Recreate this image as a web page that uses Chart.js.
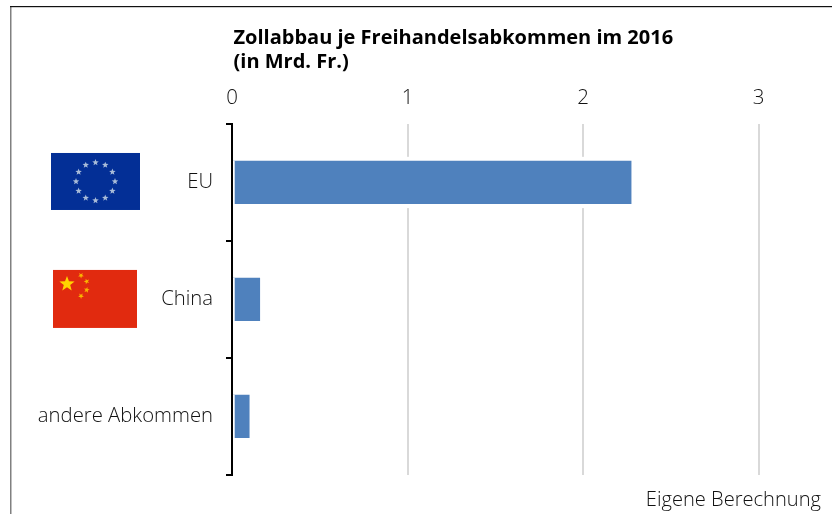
<!DOCTYPE html>
<html><head><meta charset="utf-8">
<style>
html,body{margin:0;padding:0;background:#fff;overflow:hidden}
#wrap{position:absolute;left:0;top:0;width:832px;height:514px}
canvas{display:block}
</style>
<script src="https://cdn.jsdelivr.net/npm/chart.js@4"></script>
</head><body>
<div id="wrap"><canvas id="c" width="832" height="514"></canvas></div>
<script>
const categories = ["EU", "China", "andere Abkommen"];
const values = [2.276, 0.16, 0.1];
const xTicks = [0, 1, 2, 3];
const titleLines = ["Zollabbau je Freihandelsabkommen im 2016", "(in Mrd. Fr.)"];
const sourceNote = "Eigene Berechnung";
const FONT = "'Open Sans', sans-serif";

function star(ctx, cx, cy, r, color, rot) {
  ctx.save();
  ctx.translate(cx, cy);
  ctx.rotate(rot || 0);
  ctx.fillStyle = color;
  ctx.beginPath();
  for (let i = 0; i < 10; i++) {
    const a = -Math.PI / 2 + i * Math.PI / 5;
    const q = i % 2 ? r * 0.42 : r;
    ctx.lineTo(q * Math.cos(a), q * Math.sin(a));
  }
  ctx.closePath();
  ctx.fill();
  ctx.restore();
}

const decor = {
  id: "decor",
  afterLayout(chart) {
    chart.boxes.forEach(b => {
      if (b.options && b.options.text === sourceNote) b.right = 821;
      if (b.options && b.options.text === titleLines) b.left = 233.5;
    });
  },
  beforeDraw(chart) {
    const ctx = chart.ctx;
    ctx.save();
    ctx.fillStyle = "#808080";
    ctx.fillRect(10, 6, 1.5, 508);
    ctx.fillStyle = "#111";
    ctx.fillRect(10, 6, 822, 1.2);
    ctx.restore();
  },
  beforeDatasetsDraw(chart) {
    const ctx = chart.ctx;
    ctx.save();
    ctx.fillStyle = "#fff";
    chart.getDatasetMeta(0).data.forEach(b => {
      const h = b.height;
      ctx.fillRect(b.base, b.y - h / 2 - 4, b.x - b.base + 4, h + 8);
    });
    ctx.restore();
  },
  afterDatasetsDraw(chart) {
    const ctx = chart.ctx;
    ctx.save();
    ctx.fillStyle = "#fff";
    chart.getDatasetMeta(0).data.forEach(b => {
      ctx.fillRect(b.base, b.y - b.height / 2, 1.7, b.height);
    });
    ctx.restore();
  },
  afterDraw(chart) {
    const ctx = chart.ctx;
    const y = chart.scales.y;
    const yEU = y.getPixelForValue(0), yCN = y.getPixelForValue(1);
    ctx.save();
    ctx.fillStyle = "#032f96";
    ctx.fillRect(51, yEU - 29.5, 89, 57);
    for (let i = 0; i < 12; i++) {
      const a = i * Math.PI / 6;
      star(ctx, 95.5 + 19.5 * Math.sin(a), yEU - 1 - 19 * Math.cos(a), 3.4, "#a9bcd8");
    }
    ctx.fillStyle = "#e12a0f";
    ctx.fillRect(53, yCN - 29.5, 84, 58);
    star(ctx, 67, yCN - 15.5, 8, "#ffd400");
    star(ctx, 81, yCN - 24, 3, "#f9b400", 0.6);
    star(ctx, 86.7, yCN - 18, 3, "#f9b400", 0.9);
    star(ctx, 86.7, yCN - 9.5, 3, "#f9b400", 0.2);
    star(ctx, 81, yCN - 3.5, 3, "#f9b400", 0.6);
    ctx.restore();
  }
};

new Chart(document.getElementById("c"), {
  type: "bar",
  data: {
    labels: categories,
    datasets: [{
      data: values,
      backgroundColor: "#4f81bd",
      borderWidth: 0,
      barPercentage: 0.37,
      categoryPercentage: 1
    }]
  },
  plugins: [decor],
  options: {
    indexAxis: "y",
    responsive: false,
    animation: false,
    layout: { padding: { left: 0, right: 73.5, top: 26, bottom: 2 } },
    plugins: {
      legend: { display: false },
      tooltip: { enabled: false },
      title: {
        display: true,
        text: titleLines,
        align: "start",
        color: "#000",
        font: { family: FONT, size: 20, weight: "bold", lineHeight: 1.2 },
        padding: { top: 0, bottom: 0 }
      },
      subtitle: {
        display: true,
        position: "bottom",
        text: sourceNote,
        align: "end",
        color: "#111",
        font: { family: FONT, size: 20.1, weight: "300", lineHeight: 1.2 },
        padding: { top: 13, bottom: 0 }
      }
    },
    scales: {
      x: {
        position: "top",
        type: "linear",
        min: 0,
        max: 3,
        afterBuildTicks(s) { s.ticks = xTicks.map(v => ({ value: v })); },
        border: { display: false },
        grid: { color: "#d9d9d9", lineWidth: 2, drawTicks: false },
        ticks: {
          color: "#111",
          padding: 14,
          maxRotation: 0,
          font: { family: FONT, size: 20.5, weight: "300" }
        },
        afterFit(s) { s.height = 50; }
      },
      y: {
        type: "category",
        border: { display: true, color: "#000", width: 2 },
        grid: {
          offset: true,
          drawOnChartArea: false,
          color: "#000",
          lineWidth: 2,
          tickLength: 6
        },
        ticks: {
          color: "#111",
          padding: 13,
          font: { family: FONT, size: 20.3, weight: "300" }
        },
        afterFit(s) { s.width = 232; }
      }
    }
  }
});
</script>
</body></html>
